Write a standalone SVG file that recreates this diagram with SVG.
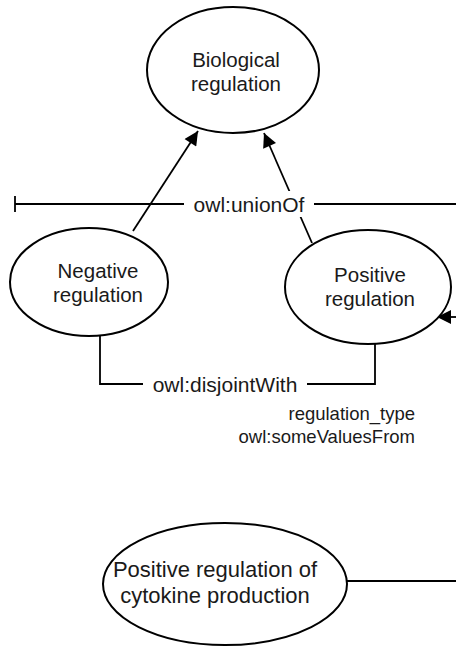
<svg xmlns="http://www.w3.org/2000/svg" width="456" height="646" viewBox="0 0 456 646">
<style>
.node ellipse{fill:#fff;stroke:#000;stroke-width:2}
text{font-family:"Liberation Sans",Arial,sans-serif;font-size:20.5px;fill:#1a1a1a}
.big{font-size:22px}
.lbl{font-size:21px}
.sm{font-size:18.5px}
.c{text-anchor:middle}
.r{text-anchor:end}
.ln{fill:none;stroke:#000;stroke-width:1.8}
.bg{fill:#fff}
</style>
<defs>
<marker id="ah" viewBox="0 0 10 10" refX="10" refY="5" markerWidth="18" markerHeight="14" markerUnits="userSpaceOnUse" orient="auto">
<path d="M0,0 L10,5 L0,10 Z" fill="#000"/>
</marker>
</defs>
<g id="connectors">
<line class="ln" x1="15" y1="204" x2="456" y2="204"/>
<line class="ln" x1="15" y1="196" x2="15" y2="212"/>
<line class="ln" x1="133" y1="231" x2="198" y2="131" marker-end="url(#ah)"/>
<line class="ln" x1="312" y1="243" x2="264" y2="133" marker-end="url(#ah)"/>
<rect class="bg" x="184" y="191" width="130" height="26"/>
<text class="c lbl" x="249" y="212">owl:unionOf</text>
<polyline class="ln" points="100,332 100,384 375,384 375,340"/>
<rect class="bg" x="143" y="371" width="164" height="26"/>
<text class="c lbl" x="225" y="392">owl:disjointWith</text>
<line class="ln" x1="456" y1="317" x2="437" y2="317" marker-end="url(#ah)"/>
<line class="ln" x1="346" y1="581" x2="456" y2="581"/>
<text class="r sm" x="415" y="420">regulation_type</text>
<text class="r sm" x="415" y="443">owl:someValuesFrom</text>
</g>
<g id="biological-regulation" class="node">
<ellipse cx="233" cy="70" rx="86" ry="63"/>
<text class="c" x="236" y="67">Biological</text>
<text class="c" x="236" y="91">regulation</text>
</g>
<g id="negative-regulation" class="node">
<ellipse cx="89" cy="282" rx="79" ry="54"/>
<text class="c" x="98" y="278">Negative</text>
<text class="c" x="98" y="302">regulation</text>
</g>
<g id="positive-regulation" class="node">
<ellipse cx="368" cy="287" rx="83" ry="57"/>
<text class="c" x="370" y="282">Positive</text>
<text class="c" x="370" y="306">regulation</text>
</g>
<g id="positive-regulation-of-cytokine-production" class="node">
<ellipse cx="225" cy="584" rx="122" ry="61"/>
<text class="c big" x="215" y="577">Positive regulation of</text>
<text class="c big" x="215" y="603">cytokine production</text>
</g>
</svg>
